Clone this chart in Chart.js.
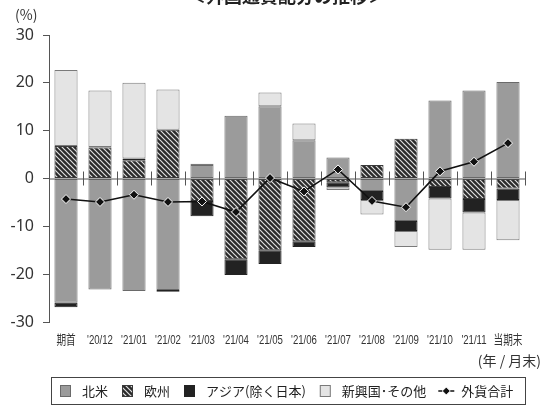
<!DOCTYPE html>
<html><head><meta charset="utf-8">
<script src="https://cdn.jsdelivr.net/npm/chart.js@4.4.1/dist/chart.umd.min.js"></script>
<style>html,body{margin:0;padding:0;background:#fff;overflow:hidden}</style>
</head><body><canvas id="c" width="547" height="405" style="display:block;width:547px;height:405px"></canvas>
<script>
const titleText = '＜外国通貨配分の推移＞';
const yUnit = '(%)';
const xUnit = '(年 / 月末)';
const categories = ['期首', "'20/12", "'21/01", "'21/02", "'21/03", "'21/04", "'21/05", "'21/06", "'21/07", "'21/08", "'21/09", "'21/10", "'21/11", '当期末'];
const seriesNames = ['北米', '欧州', 'アジア(除く日本)', '新興国･その他', '外貨合計'];
const northAmerica = [-26.0, -23.2, -23.5, -23.3, 2.8, 13.1, 15.1, 8.0, 4.4, -2.6, -8.9, 16.3, 18.4, 20.2];
const europe = [6.8, 6.5, 3.8, 10.2, -4.7, -16.9, -15.0, -13.1, -0.8, 2.8, 8.3, -1.8, -4.3, -2.1];
const asia = [-0.9, 0.1, 0.4, -0.4, -3.2, -3.3, -2.9, -1.2, -1.1, -1.9, -2.1, -2.4, -2.8, -2.4];
const emerging = [15.9, 11.8, 15.8, 8.4, 0.3, null, 2.9, 3.5, -0.5, -3.0, -3.3, -10.7, -7.8, -8.4];
const totalFx = [-4.3, -4.9, -3.4, -4.9, -4.8, -7.0, 0.1, -2.7, 1.9, -4.7, -6.0, 1.5, 3.5, 7.4];
const yTicks = [-30, -20, -10, 0, 10, 20, 30];

function hatch() {
  const s = 5;
  const c = document.createElement('canvas');
  c.width = s; c.height = s;
  const g = c.getContext('2d');
  g.fillStyle = '#2b2b2b';
  g.fillRect(0, 0, s, s);
  g.strokeStyle = '#e0e0e0';
  g.lineWidth = 1.2;
  g.beginPath();
  g.moveTo(-1, -1); g.lineTo(s + 1, s + 1);
  g.moveTo(-1, s - 1); g.lineTo(1, s + 1);
  g.moveTo(s - 1, -1); g.lineTo(s + 1, 1);
  g.stroke();
  return document.getElementById('c').getContext('2d').createPattern(c, 'repeat');
}
const hatchPattern = hatch();

const decor = {
  id: 'decor',
  afterDatasetDraw(chart, args) {
    if (args.index !== 0) return;
    const {ctx, chartArea: a, scales: {x, y}} = chart;
    const y0 = y.getPixelForValue(0);
    ctx.save();
    ctx.strokeStyle = '#555';
    ctx.lineWidth = 1;
    ctx.beginPath();
    ctx.moveTo(a.left, y0 + 0.5); ctx.lineTo(a.right, y0 + 0.5);
    const n = categories.length;
    for (let i = 0; i < n; i++) {
      const xb = i < n - 1 ? (x.getPixelForValue(i) + x.getPixelForValue(i + 1)) / 2 : a.right;
      const xx = Math.round(xb) + 0.5;
      ctx.moveTo(xx, y0 - 7); ctx.lineTo(xx, y0 + 7);
    }
    ctx.stroke();
    ctx.restore();
  },
  afterDraw(chart) {
    const {ctx, chartArea: a, scales: {x}} = chart;
    ctx.save();
    // title (partly cut off at top)
    ctx.fillStyle = '#222';
    ctx.font = 'bold 18px "Noto Sans CJK JP"';
    ctx.textAlign = 'center';
    ctx.textBaseline = 'alphabetic';
    ctx.fillText(titleText, (a.left + a.right) / 2, 3);
    // condensed category labels
    ctx.font = '13px "Liberation Sans", "Noto Sans CJK JP", sans-serif';
    ctx.fillStyle = '#333';
    ctx.textBaseline = 'middle';
    categories.forEach((lab, i) => {
      const px = x.getPixelForValue(i);
      ctx.save();
      ctx.translate(px, a.bottom + 18);
      ctx.scale(0.74, 1);
      ctx.fillText(lab, 0, 0);
      ctx.restore();
    });
    // units
    ctx.font = '14px "Noto Sans CJK JP"';
    ctx.fillStyle = '#333';
    ctx.textAlign = 'left';
    ctx.fillText(yUnit, 15, 15);
    ctx.textAlign = 'right';
    ctx.fillText(xUnit, 541, 361);
    // legend
    ctx.strokeStyle = '#444';
    ctx.lineWidth = 1;
    ctx.strokeRect(51.5, 377.5, 474, 27);
    ctx.font = '13px "Noto Sans CJK JP"';
    ctx.textAlign = 'left';
    ctx.fillStyle = '#222';
    let cx = 60;
    const cy = 391;
    chart.data.datasets.forEach((ds) => {
      if (ds.type === 'line') {
        ctx.strokeStyle = ds.borderColor;
        ctx.lineWidth = 1.5;
        ctx.beginPath(); ctx.moveTo(cx - 2, cy); ctx.lineTo(cx + 14, cy); ctx.stroke();
        ctx.fillStyle = ds.pointBackgroundColor;
        ctx.strokeStyle = '#fff';
        ctx.lineWidth = 1;
        ctx.beginPath();
        ctx.moveTo(cx + 6, cy - 4); ctx.lineTo(cx + 10, cy); ctx.lineTo(cx + 6, cy + 4); ctx.lineTo(cx + 2, cy);
        ctx.closePath(); ctx.fill(); ctx.stroke();
        ctx.fillStyle = '#222';
        ctx.fillText(ds.label, cx + 21, cy);
        return;
      }
      ctx.fillStyle = ds.backgroundColor;
      ctx.fillRect(cx, cy - 6, 11, 12);
      ctx.strokeStyle = ds.borderColor;
      ctx.strokeRect(cx + 0.5, cy - 5.5, 10, 11);
      ctx.fillStyle = '#222';
      ctx.fillText(ds.label, cx + 22, cy);
      cx += 22 + ctx.measureText(ds.label).width + 14;
    });
    ctx.restore();
  }
};

const barCommon = {type: 'bar', borderWidth: 1, borderSkipped: false, barPercentage: 0.68, categoryPercentage: 1, order: 1};

new Chart(document.getElementById('c'), {
  data: {
    labels: categories,
    datasets: [
      Object.assign({label: seriesNames[0], data: northAmerica, backgroundColor: '#9b9b9b', borderColor: '#6a6a6a'}, barCommon),
      Object.assign({label: seriesNames[1], data: europe, backgroundColor: hatchPattern, borderColor: '#3a3a3a'}, barCommon),
      Object.assign({label: seriesNames[2], data: asia, backgroundColor: '#222222', borderColor: '#222222'}, barCommon),
      Object.assign({label: seriesNames[3], data: emerging, backgroundColor: '#e4e4e4', borderColor: '#7a7a7a'}, barCommon),
      {type: 'line', label: seriesNames[4], data: totalFx, stack: 'total', order: 0,
       borderColor: '#111', borderWidth: 1.6, pointStyle: 'rectRot', pointRadius: 4.5,
       pointBackgroundColor: '#111', pointBorderColor: '#fff', pointBorderWidth: 1, tension: 0}
    ]
  },
  options: {
    responsive: false,
    animation: false,
    devicePixelRatio: 1,
    layout: {padding: {top: 35, left: 0, right: 22, bottom: 53}},
    plugins: {legend: {display: false}, tooltip: {enabled: false}, title: {display: false}},
    scales: {
      x: {
        stacked: true,
        grid: {display: false},
        border: {display: false},
        ticks: {display: false},
        afterFit(s) { s.height = 30; }
      },
      y: {
        stacked: true,
        min: -30, max: 30,
        afterBuildTicks(s) { s.ticks = yTicks.map(v => ({value: v})); },
        grid: {drawOnChartArea: false, drawTicks: true, tickLength: 6, color: '#555'},
        border: {display: true, color: '#555', width: 1},
        ticks: {color: '#333', padding: 9, font: {family: '"Noto Sans", sans-serif', size: 16}},
        afterFit(s) { s.width = 49; }
      }
    }
  },
  plugins: [decor]
});
</script>
</body></html>
